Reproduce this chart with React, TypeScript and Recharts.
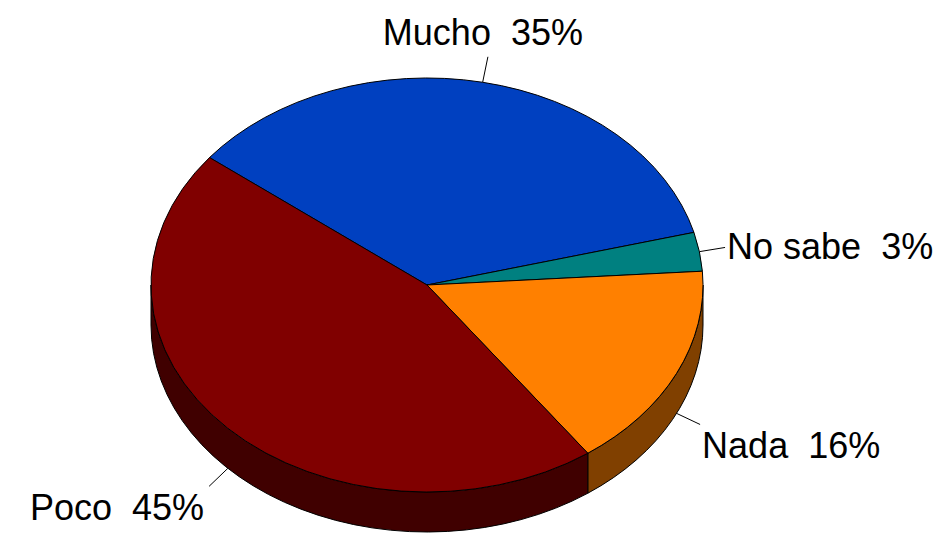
import React from 'react';
import { PieChart, Pie, Cell } from 'recharts';

const categories = ['Mucho', 'No sabe', 'Nada', 'Poco'];
const values = [35, 3, 16, 45];
const topColors = ['#0040C0', '#008080', '#FF8000', '#800000'];
const sideColors = ['#002060', '#004040', '#804000', '#400000'];

const chartData = categories.map((name, i) => ({ name, value: values[i] }));

const TILT = 0.75;
const DEPTH = 40;
const RAD = Math.PI / 180;

const pt = (cx: number, cy: number, rx: number, a: number, dy = 0) => ({
  x: cx + rx * Math.cos(a * RAD),
  y: cy - rx * TILT * Math.sin(a * RAD) + dy,
});

function Slice3D(props: any) {
  const { cx, cy, outerRadius, startAngle, endAngle, index } = props;
  const rx = outerRadius;
  const ry = rx * TILT;
  const lo = Math.min(startAngle, endAngle);
  const hi = Math.max(startAngle, endAngle);

  // visible side wall = the part of the arc on the front (lower) half
  const walls: string[] = [];
  for (let k = -2; k <= 2; k++) {
    const s = Math.max(lo, -180 + 360 * k);
    const e = Math.min(hi, 360 * k);
    if (e - s > 0.01) {
      const p1 = pt(cx, cy, rx, s);
      const p2 = pt(cx, cy, rx, e);
      walls.push(
        `M${p1.x},${p1.y} A${rx},${ry} 0 0 0 ${p2.x},${p2.y} L${p2.x},${p2.y + DEPTH} A${rx},${ry} 0 0 1 ${p1.x},${p1.y + DEPTH} Z`
      );
    }
  }

  const a = pt(cx, cy, rx, startAngle);
  const b = pt(cx, cy, rx, endAngle);
  const large = hi - lo > 180 ? 1 : 0;
  const sweep = endAngle < startAngle ? 1 : 0;
  const top = `M${cx},${cy} L${a.x},${a.y} A${rx},${ry} 0 ${large} ${sweep} ${b.x},${b.y} Z`;

  return (
    <g>
      {walls.map((d, i) => (
        <path key={i} d={d} fill={sideColors[index]} stroke="#000" strokeWidth={1} />
      ))}
      <path d={top} fill={topColors[index]} stroke="#000" strokeWidth={1} />
    </g>
  );
}

function renderLabel(props: any) {
  const { cx, cy, outerRadius, midAngle, name, value } = props;
  const s = Math.sin(midAngle * RAD);
  const c = Math.cos(midAngle * RAD);
  const start = pt(cx, cy, outerRadius, midAngle, s < 0 ? DEPTH : 0);
  const end = { x: start.x + 26 * c, y: start.y - 26 * s };

  let anchor: 'start' | 'middle' | 'end' = c >= 0 ? 'start' : 'end';
  let tx = c >= 0 ? end.x + 2 : end.x - 5;
  let ty = end.y + 12;
  if (s > 0.7) {
    anchor = 'middle';
    tx = end.x - 5;
    ty = end.y - 12;
  } else if (s < -0.3) {
    ty = end.y + 34;
  }

  return (
    <g>
      <line x1={start.x} y1={start.y} x2={end.x} y2={end.y} stroke="#000" strokeWidth={1} />
      <text
        x={tx}
        y={ty}
        textAnchor={anchor}
        fill="#000"
        fontSize={36}
        fontFamily="'Liberation Sans', Arial, sans-serif"
        style={{ whiteSpace: 'pre' }}
      >
        {`${name}  ${value}%`}
      </text>
    </g>
  );
}

export default function App() {
  return (
    <div style={{ position: 'absolute', left: 0, top: 0, width: 946, height: 533, background: '#fff' }}>
      <PieChart width={946} height={533} margin={{ top: 0, right: 0, bottom: 0, left: 0 }}>
        <Pie
          data={chartData}
          dataKey="value"
          nameKey="name"
          cx={427}
          cy={285}
          outerRadius={276}
          startAngle={142}
          endAngle={-218}
          paddingAngle={0}
          stroke="#000"
          shape={Slice3D}
          label={renderLabel}
          labelLine={false}
          isAnimationActive={false}
        >
          {chartData.map((d, i) => (
            <Cell key={d.name} fill={topColors[i]} />
          ))}
        </Pie>
      </PieChart>
    </div>
  );
}
